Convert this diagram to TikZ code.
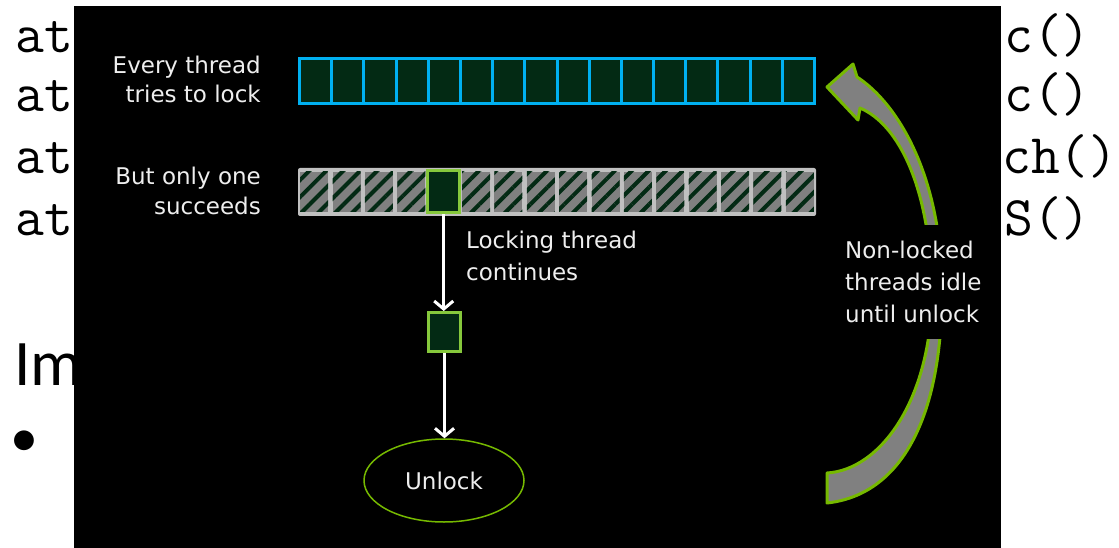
\documentclass[tikz,border=0pt]{standalone}
\usepackage{fontspec}
\setmainfont{DejaVu Sans}
\newfontfamily\calib{Carlito}
\usetikzlibrary{arrows.meta,shapes.geometric,patterns.meta}
\definecolor{cyanB}{HTML}{00B0F0}
\definecolor{dkgreen}{HTML}{032A14}
\definecolor{hlgreen}{HTML}{86C83C}
\definecolor{ngreen}{HTML}{76B900}
\definecolor{hatchgray}{HTML}{808080}
\definecolor{framegray}{HTML}{C0C0C0}
\definecolor{txtc}{HTML}{EEEEEE}
\begin{document}
\begin{tikzpicture}[x=1pt,y=-1pt,
  mono/.style={font=\ttfamily\fontsize{56}{56}\selectfont, anchor=base west, inner sep=0pt},
  big/.style={font=\calib\fontsize{65}{65}\selectfont, anchor=base west, inner sep=0pt},
  lab/.style={text=txtc, font=\fontsize{23}{29}\selectfont, inner sep=0pt},
  cellA/.style={draw=cyanB, line width=3pt, fill=dkgreen, minimum width=32.1875pt, minimum height=44.5pt, inner sep=0pt},
  cellB/.style={minimum width=28pt, minimum height=40pt, inner sep=0pt,
    preaction={fill=hatchgray}, pattern={Lines[angle=45,distance=12pt,line width=4pt]}, pattern color=dkgreen},
  hlbox/.style={draw=hlgreen, line width=3pt, fill=dkgreen, inner sep=0pt},
  warrow/.style={draw=white, line width=3pt, -{Straight Barb[length=8pt,width=19pt]}},
  crescent/.style={draw=ngreen, fill=hatchgray, line width=3pt, line join=round}
]
\useasboundingbox (0,0) rectangle (1119,548);
\fill[white] (0,0) rectangle (1119,548);
% background slide text (partly hidden)
\node[mono] (l1) at (15,53) {at};
\node[mono] (l2) at (15,112) {at};
\node[mono] (l3) at (15,174) {at};
\node[mono] (l4) at (15,236) {at};
\node[mono] (r1) at (1004,53) {c()};
\node[mono] (r2) at (1004,112) {c()};
\node[mono] (r3) at (1002,174) {ch()};
\node[mono] (r4) at (1004,236) {S()};
\node[big] (im) at (14,385) {Im};
\node[big, font=\calib\fontsize{56}{56}\selectfont] (bul) at (10.5,456) {•};
% black picture
\fill[black] (74,6) rectangle (1001,548);
% top bar
\foreach \i in {0,...,15}
  \node[cellA] (a\i) at ({299.5+32.1875*(\i+0.5)},81) {};
% second bar
\node[fill=framegray, rounded corners=2pt, minimum width=518pt, minimum height=48pt, inner sep=0pt] (bbar) at (557,192) {};
\foreach \i in {0,1,2,3,5,6,7,8,9,10,11,12,13,14,15}
  \node[cellB] (b\i) at ({298+32.375*(\i+0.5)},192) {};
\node[hlbox, minimum width=32pt, minimum height=42pt] (b4) at (443.7,192) {};
% locking thread box
\node[hlbox, minimum width=32pt, minimum height=39pt] (box) at (444.5,332) {};
\node[ellipse, draw=ngreen, line width=1.5pt, fill=black, minimum width=160pt, minimum height=83pt, text=txtc, font=\fontsize{23}{29}\selectfont] (unl) at (444,480.5) {Unlock};
\draw[warrow] (b4.south) -- (b4.south |- box.north);
\draw[warrow] (box.south) -- (box.south |- unl.north);
% labels
\node[lab, anchor=north east, align=right] (t1) at (261,55.5) {Every thread\\tries to lock};
\node[lab, anchor=north east, align=right, font=\fontsize{23}{30}\selectfont] (t2) at (261,166.5) {But only one\\succeeds};
\node[lab, anchor=north west, align=left, font=\fontsize{23}{32}\selectfont] (t3) at (466,230.5) {Locking thread\\continues};
% curved arrow
\filldraw[crescent] (827,503) .. controls (900,495) and (942,420) .. (942,290)
  .. controls (942,180) and (900,105) .. (857,77) -- (853,64) -- (827,87) -- (858,120) -- (860,108)
  .. controls (900,125) and (930,190) .. (932,290)
  .. controls (932,400) and (880,470) .. (827,473) -- cycle;
\node[lab, anchor=north west, align=left, font=\fontsize{23}{32}\selectfont, fill=black, inner xsep=4pt, inner ysep=16pt] (t4) at (841,224.5) {Non-locked\\threads idle\\until unlock};
\end{tikzpicture}
\end{document}
